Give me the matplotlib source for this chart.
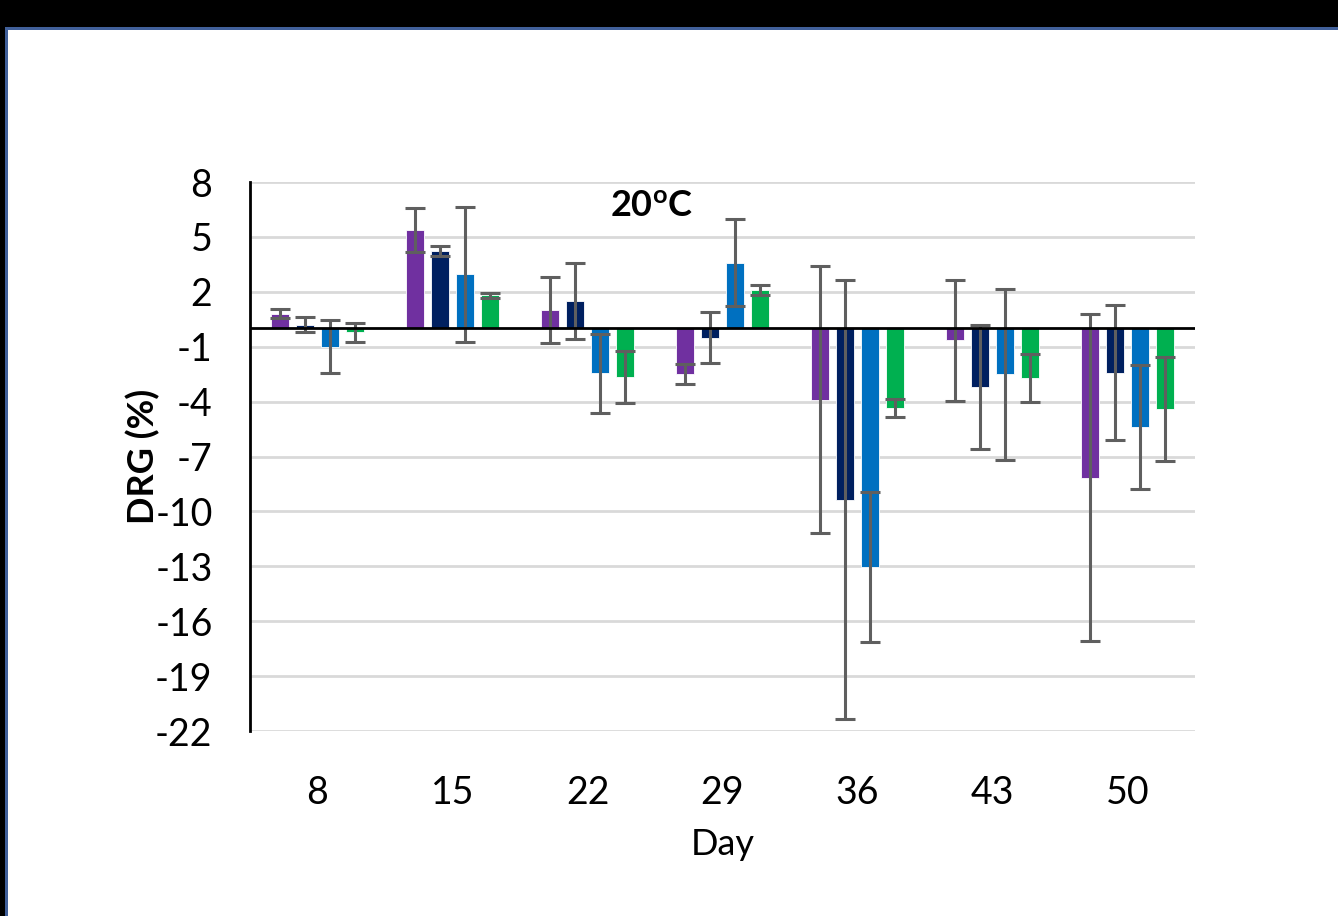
import matplotlib
matplotlib.use("Agg")
import matplotlib.pyplot as plt
import numpy as np
from matplotlib.patches import Rectangle

days = ["8", "15", "22", "29", "36", "43", "50"]
series_names = ["S1", "S2", "S3", "S4"]
colors = ["#7030A0", "#002060", "#0070C0", "#00B050"]

vals_s1 = [0.8, 5.4, 1.0, -2.5, -3.9, -0.65, -8.15]
vals_s2 = [0.2, 4.25, 1.5, -0.5, -9.35, -3.2, -2.42]
vals_s3 = [-1.0, 2.95, -2.45, 3.6, -13.05, -2.5, -5.4]
vals_s4 = [-0.22, 1.8, -2.65, 2.1, -4.35, -2.7, -4.4]

err_s1 = [0.25, 1.2, 1.8, 0.55, 7.3, 3.3, 8.95]
err_s2 = [0.4, 0.27, 2.1, 1.4, 12.0, 3.4, 3.7]
err_s3 = [1.45, 3.7, 2.15, 2.4, 4.1, 4.67, 3.4]
err_s4 = [0.52, 0.13, 1.4, 0.25, 0.48, 1.32, 2.85]

yticks = [8, 5, 2, -1, -4, -7, -10, -13, -16, -19, -22]

values = [vals_s1, vals_s2, vals_s3, vals_s4]
errors = [err_s1, err_s2, err_s3, err_s4]

plt.rcParams['font.family'] = ['Lato', 'DejaVu Sans']
plt.rcParams['mathtext.fontset'] = 'custom'
plt.rcParams['mathtext.rm'] = 'Lato'
plt.rcParams['mathtext.bf'] = 'Lato:bold'

fig = plt.figure(figsize=(13.38, 9.16), dpi=100)
fig.patch.set_facecolor('white')

# frame decorations (black band top, blue border)
fig.patches.append(Rectangle((0, 1 - 27/916), 1, 27/916, transform=fig.transFigure,
                             facecolor='black', edgecolor='none', zorder=0))
fig.patches.append(Rectangle((0, 0), 5/1338, 1, transform=fig.transFigure,
                             facecolor='black', edgecolor='none', zorder=0))
fig.patches.append(Rectangle((5/1338, 0), 3/1338, 1 - 27/916, transform=fig.transFigure,
                             facecolor='#41609A', edgecolor='none', zorder=0))
fig.patches.append(Rectangle((5/1338, 1 - 30/916), 1, 3/916, transform=fig.transFigure,
                             facecolor='#41609A', edgecolor='none', zorder=0))

ax = fig.add_axes([250/1338, 1 - 731/916, 945/1338, 549/916])
ax.set_facecolor('none')

x = np.arange(len(days))
bw = 0.14
step = 0.185
offsets = (np.arange(4) - 1.5) * step
for i in range(4):
    ax.bar(x + offsets[i], values[i], width=bw, color=colors[i], edgecolor='white',
           linewidth=0.6, zorder=3)
    ax.errorbar(x + offsets[i], values[i], yerr=errors[i], fmt='none',
                ecolor='#5F5F5F', elinewidth=2.2, capsize=7, capthick=2.2, zorder=4)

ax.axhline(0, color='black', linewidth=2, zorder=5)

ax.set_xlim(-0.5, len(days) - 0.5)
ax.set_ylim(-22, 8)
ax.set_yticks(yticks)
ax.set_yticklabels([str(t) for t in yticks])
ax.yaxis.grid(True, color='#D9D9D9', linewidth=2)
ax.set_axisbelow(True)
ax.set_xticks(x)
ax.set_xticklabels(days)
ax.tick_params(axis='both', length=0, labelsize=27)
ax.tick_params(axis='x', pad=32)
ax.tick_params(axis='y', pad=27)
for s in ['top', 'right', 'bottom']:
    ax.spines[s].set_visible(False)
ax.spines['left'].set_color('black')
ax.spines['left'].set_linewidth(2)

ax.set_ylabel('DRG (%)', fontsize=26, fontweight='bold', labelpad=-4)
ax.set_xlabel('Day', fontsize=26, labelpad=12)

ax.text(0.425, 0.955, r'$\mathbf{20^{o}C}$', transform=ax.transAxes, fontsize=26,
        ha='center', va='center')

fig.savefig('out.png', dpi=100)
